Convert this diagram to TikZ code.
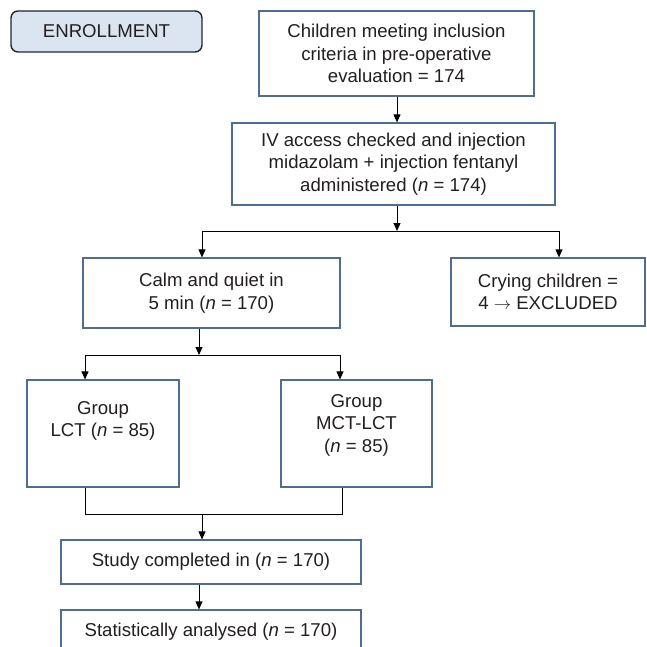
\documentclass[tikz,border=0pt]{standalone}
\usepackage{fontspec}
\setmainfont{Liberation Sans}
\usetikzlibrary{arrows.meta,calc}
\definecolor{boxline}{HTML}{4F6D8F}
\definecolor{enrfill}{HTML}{DBE5F1}
\definecolor{txt}{HTML}{231F20}
\tikzset{
  flowbox/.style={draw=boxline, line width=1.2pt, fill=white, align=center, inner sep=0pt, text=txt,
    font=\fontsize{18.6}{22.5}\selectfont},
  enrbox/.style={draw=black!85, line width=1.4pt, fill=enrfill, rounded corners=7pt, align=center, inner sep=0pt, text=txt,
    font=\fontsize{18.6}{22.5}\selectfont},
  conn/.style={draw=black, line width=1pt},
  arr/.style={conn, -{Triangle[length=8pt,width=7pt]}},
}
\begin{document}
\begin{tikzpicture}[x=1pt,y=-1pt]
\useasboundingbox (0,0) rectangle (646,647);
\clip (0,0) rectangle (646,647);
\node[enrbox, minimum width=191pt, minimum height=41pt] (enr) at (106.5,31.5) {ENROLLMENT};
\node[flowbox, minimum width=275pt, minimum height=85pt] (b1) at (396.5,53.5) {Children meeting inclusion\\criteria in pre-operative\\evaluation = 174};
\node[flowbox, minimum width=323pt, minimum height=82pt] (b2) at (393.5,164) {IV access checked and injection\\midazolam + injection fentanyl\\administered (\textit{n} = 174)};
\node[flowbox, minimum width=257pt, minimum height=70pt] (calm) at (211.5,293) {Calm and quiet in\\5 min (\textit{n} = 170)};
\node[flowbox, minimum width=194pt, minimum height=68pt] (cry) at (548,292) {Crying children =\\4 $\rightarrow$ EXCLUDED};
\node[flowbox, minimum width=152pt, minimum height=107pt] (lct) at (103,433.5) {Group\\LCT (\textit{n} = 85)\\[6pt]};
\node[flowbox, minimum width=151pt, minimum height=107pt] (mct) at (356.5,433.5) {Group\\MCT-LCT\\(\textit{n} = 85)\\[-2pt]};
\node[flowbox, minimum width=300pt, minimum height=44pt] (study) at (211,562) {Study completed in (\textit{n} = 170)};
\node[flowbox, minimum width=300pt, minimum height=44pt] (stat) at (211,632) {Statistically analysed (\textit{n} = 170)};
% split coordinates
\coordinate (s1) at (397,231);
\coordinate (s1l) at (202,231);
\coordinate (s1r) at (559,231);
\coordinate (s2) at (199,355);
\coordinate (s2l) at (85,355);
\coordinate (s2r) at (340,355);
\coordinate (j1) at (202,514);
\coordinate (j1l) at (85,514);
\coordinate (j1r) at (342,514);
% connectors
\draw[arr] (s1 |- b1.south) -- (s1 |- b2.north);
\draw[arr] (s1 |- b2.south) -- (s1);
\draw[conn] (s1l) -- (s1r);
\draw[arr] (s1l) -- (s1l |- calm.north);
\draw[arr] (s1r) -- (s1r |- cry.north);
\draw[arr] (s2 |- calm.south) -- (s2);
\draw[conn] (s2l) -- (s2r);
\draw[arr] (s2l) -- (s2l |- lct.north);
\draw[arr] (s2r) -- (s2r |- mct.north);
\draw[conn] (j1l |- lct.south) -- (j1l) -- (j1r) -- (j1r |- mct.south);
\draw[arr] (j1) -- (j1 |- study.north);
\draw[arr] (s2 |- study.south) -- (s2 |- stat.north);
\end{tikzpicture}
\end{document}
